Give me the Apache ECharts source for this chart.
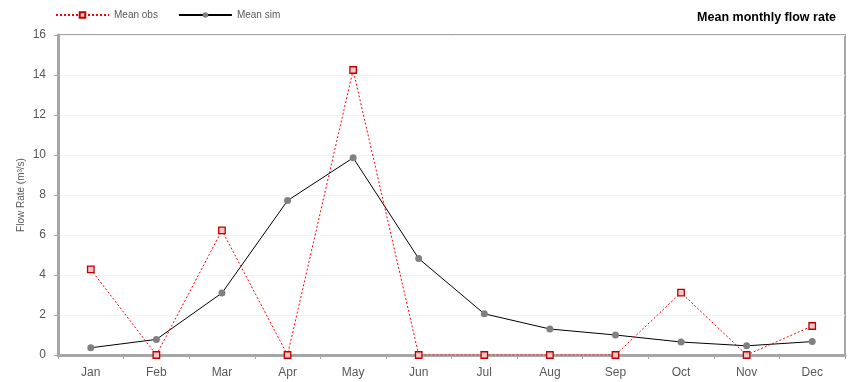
<!DOCTYPE html>
<html>
<head>
<meta charset="utf-8">
<script src="https://cdn.jsdelivr.net/npm/echarts@6/dist/echarts.min.js"></script>
<style>
html,body{margin:0;padding:0;background:#fff;}
#chart{width:857px;height:382px;}
</style>
</head>
<body>
<div id="chart"></div>
<script>
// Monthly flow rates, m³/s
const months = ['Jan','Feb','Mar','Apr','May','Jun','Jul','Aug','Sep','Oct','Nov','Dec'];
const meanObs = [4.28, 0, 6.23, 0, 14.25, 0, 0, 0, 0, 3.12, 0, 1.45];
const meanSim = [0.36, 0.78, 3.1, 7.72, 9.86, 4.82, 2.06, 1.3, 1.0, 0.65, 0.46, 0.67];
const yTicks = { min: 0, max: 16, interval: 2 };

const fontFam = "'Liberation Sans Narrow', 'Liberation Sans', Arial, sans-serif";
const chart = echarts.init(document.getElementById('chart'));
chart.setOption({
  animation: false,
  title: {
    text: 'Mean monthly flow rate',
    right: 16, top: 6,
    textStyle: { fontFamily: "'Liberation Sans', Arial, sans-serif", fontSize: 12.5, fontWeight: 'bold', color: '#000' }
  },
  legend: {
    left: 50, top: 5,
    itemWidth: 53, itemHeight: 7, itemGap: 20,
    textStyle: { fontFamily: "'Liberation Sans', Arial, sans-serif", fontSize: 10, color: '#595959' },
    data: ['Mean obs', 'Mean sim']
  },
  grid: {
    left: 58, right: 12, top: 35, bottom: 27,
    show: true, borderColor: '#a6a6a6', borderWidth: 2
  },
  xAxis: {
    type: 'category',
    data: months,
    boundaryGap: true,
    axisLine: { lineStyle: { color: '#a6a6a6', width: 3 } },
    axisTick: { show: true, length: 4, lineStyle: { color: '#a6a6a6', width: 1 } },
    axisLabel: { fontFamily: fontFam, fontSize: 12, color: '#595959', margin: 12 }
  },
  yAxis: {
    type: 'value',
    min: yTicks.min, max: yTicks.max, interval: yTicks.interval,
    name: 'Flow Rate (m³/s)',
    nameLocation: 'middle',
    nameGap: 32,
    nameMoveOverlap: false,
    nameTextStyle: { fontFamily: "'Liberation Sans', Arial, sans-serif", fontSize: 10, color: '#595959' },
    axisLine: { show: true, lineStyle: { color: '#a6a6a6', width: 3 } },
    axisTick: { show: true, length: 4, lineStyle: { color: '#a6a6a6', width: 1 } },
    axisLabel: { fontFamily: fontFam, fontSize: 12, color: '#595959', margin: 12 },
    splitLine: { show: true, lineStyle: { color: '#edf3f9', width: 1 } }
  },
  series: [
    {
      name: 'Mean obs',
      type: 'line',
      data: meanObs,
      symbol: 'rect',
      symbolSize: 6.5,
      z: 3,
      lineStyle: { color: '#ff0000', width: 1, type: [2, 2] },
      itemStyle: { color: '#f4c7c7', borderColor: '#c00000', borderWidth: 1.3 }
    },
    {
      name: 'Mean sim',
      type: 'line',
      data: meanSim,
      symbol: 'circle',
      symbolSize: 7,
      z: 2,
      lineStyle: { color: '#000000', width: 1 },
      itemStyle: { color: '#808080', borderColor: '#808080', borderWidth: 0 }
    }
  ]
});
</script>
</body>
</html>
